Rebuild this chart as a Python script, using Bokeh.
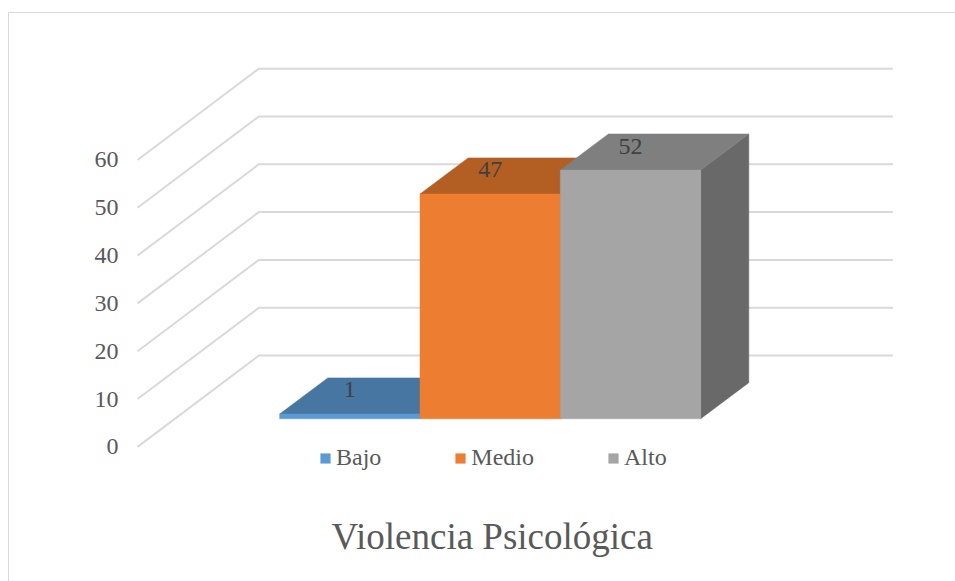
from bokeh.embed import file_html
from bokeh.resources import INLINE
from bokeh.models import Range1d, FixedTicker, Title, Legend, LegendItem, ColumnDataSource
from bokeh.plotting import figure

# ---- data ----
categories = ["Bajo", "Medio", "Alto"]
values = [1, 47, 52]
y_ticks = [0, 10, 20, 30, 40, 50, 60]
title_text = "Violencia Psicológica"

# ---- style ----
front_colors = ["#5b9bd5", "#ed7d31", "#a5a5a5"]
top_colors = ["#4676a1", "#b35e22", "#7f7f7f"]
side_colors = ["#37597a", "#8c4a1b", "#696969"]
GRID = "#d9d9d9"
FONT = "Liberation Serif"

# ---- layout (pixel geometry of the pseudo 3D scene) ----
FIG_LEFT, FIG_TOP = 8, 12
BORDER = 1.5
FRAME_LEFT, FRAME_RIGHT = 125, 955
FRAME_TOP, FRAME_BOTTOM = FIG_TOP + BORDER, 490
PX_PER_UNIT = 47.67 / 10
Y_ZERO_PX = 445.5
WALL_DX, WALL_DY = 121, 91 / PX_PER_UNIT     # axis plane -> back wall
WALL_LEFT, WALL_RIGHT = 138, 891.5
BAR_LEFT, BAR_W = 279.8, 140
BAR_BASE = (Y_ZERO_PX - 417.5) / PX_PER_UNIT
DEPTH_X, DEPTH_Y = 48, 36 / PX_PER_UNIT
LABEL_DROP = 24 / PX_PER_UNIT

p = figure(
    width=955 - FIG_LEFT, height=581 - FIG_TOP, output_backend="svg", toolbar_location=None,
    x_range=Range1d(FRAME_LEFT, FRAME_RIGHT),
    y_range=Range1d((Y_ZERO_PX - FRAME_BOTTOM) / PX_PER_UNIT, (Y_ZERO_PX - FRAME_TOP) / PX_PER_UNIT),
    min_border_left=FRAME_LEFT - FIG_LEFT - 2, min_border_right=0, min_border_top=0,
    min_border_bottom=581 - FRAME_BOTTOM,
)
p.margin = (FIG_TOP, 0, 0, FIG_LEFT)
p.styles = {"border-top": f"{BORDER}px solid " + GRID, "border-left": f"{BORDER}px solid " + GRID,
            "box-sizing": "border-box"}
p.outline_line_color = None
p.background_fill_color = "white"
p.xaxis.visible = False
p.grid.visible = False

# axis
ax = p.yaxis[0]
ax.ticker = FixedTicker(ticks=y_ticks)
ax.axis_line_color = None
ax.major_tick_line_color = None
ax.minor_tick_line_color = None
ax.major_label_text_font = FONT
ax.major_label_text_font_size = "24px"
ax.major_label_text_color = "#595959"
ax.major_label_standoff = 0

# gridlines running from the axis plane to the back wall and along it
xs = [[WALL_LEFT, WALL_LEFT + WALL_DX, WALL_RIGHT] for _ in y_ticks]
ys = [[t, t + WALL_DY, t + WALL_DY] for t in y_ticks]
p.multi_line(xs, ys, line_color=GRID, line_width=2)

# bars
items = []
for i, (cat, val) in enumerate(zip(categories, values)):
    x0 = BAR_LEFT + i * BAR_W
    x1 = x0 + BAR_W
    y0 = BAR_BASE
    y1 = BAR_BASE + val
    p.patch([x1, x1 + DEPTH_X, x1 + DEPTH_X, x1],
            [y0, y0 + DEPTH_Y, y1 + DEPTH_Y, y1], fill_color=side_colors[i], line_color=side_colors[i], line_width=0.5)
    p.patch([x0, x0 + DEPTH_X, x1 + DEPTH_X, x1],
            [y1, y1 + DEPTH_Y, y1 + DEPTH_Y, y1], fill_color=top_colors[i], line_color=top_colors[i], line_width=0.5)
    r = p.quad(left=x0, right=x1, bottom=y0, top=y1, fill_color=front_colors[i], line_color=front_colors[i], line_width=0.5)
    items.append(LegendItem(label=cat, renderers=[r]))

# value labels
src = ColumnDataSource(dict(
    x=[BAR_LEFT + (i + 0.5) * BAR_W for i in range(len(values))],
    y=[BAR_BASE + v + LABEL_DROP for v in values],
    t=[str(v) for v in values],
))
p.text("x", "y", text="t", source=src, text_font_size="24px", text_color="#404040",
       text_align="center", text_baseline="middle", text_font={"value": FONT})

legend = Legend(items=items, orientation="horizontal", location=(320 - FRAME_LEFT, 20),
                padding=0, margin=0, spacing=73, glyph_width=12, glyph_height=12, label_standoff=5,
                label_text_font=FONT, label_text_font_size="24px", label_text_color="#595959",
                border_line_color=None, background_fill_alpha=0)
p.add_layout(legend, "center")

t = Title(text=title_text, text_font=FONT, text_font_size="37px", text_font_style="normal",
          text_color="#595959", align="left", offset=332 - FRAME_LEFT, standoff=44)
p.add_layout(t, "below")

open("out.html", "w").write(file_html(p, INLINE))
